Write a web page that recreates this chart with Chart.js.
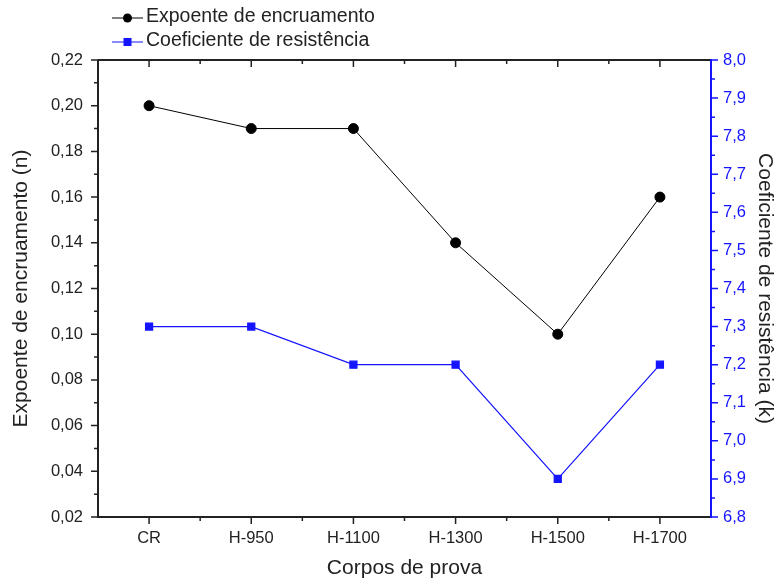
<!DOCTYPE html>
<html>
<head>
<meta charset="utf-8">
<script src="https://cdn.jsdelivr.net/npm/chart.js@4"></script>
<style>
  html, body { margin: 0; padding: 0; background: #fff; }
  #wrap { width: 781px; height: 588px; position: relative; }
</style>
</head>
<body>
<div id="wrap"><canvas id="chart"></canvas></div>
<script>
// data
var categories = ['CR', 'H-950', 'H-1100', 'H-1300', 'H-1500', 'H-1700'];
var expoenteN = [0.20, 0.19, 0.19, 0.14, 0.10, 0.16];
var coeficienteK = [7.3, 7.3, 7.2, 7.2, 6.9, 7.2];
var leftTicks = [0.02, 0.04, 0.06, 0.08, 0.10, 0.12, 0.14, 0.16, 0.18, 0.20, 0.22];
var rightTicks = [6.8, 6.9, 7.0, 7.1, 7.2, 7.3, 7.4, 7.5, 7.6, 7.7, 7.8, 7.9, 8.0];

var BLUE = '#1414ff';
var FONT = 'Liberation Sans, Arial, sans-serif';

function fmt(v, d) {
    return v.toFixed(d).replace('.', ',');
}

// frame, major/minor ticks and legend
var framePlugin = {
    id: 'frame',
    afterDraw: function (chart) {
        var ctx = chart.ctx;
        var a = chart.chartArea;
        var x = chart.scales.x, yl = chart.scales.y, yr = chart.scales.y2;
        ctx.save();

        // black frame (left, bottom, top)
        ctx.strokeStyle = '#222';
        ctx.lineWidth = 2;
        ctx.beginPath();
        ctx.moveTo(a.left, a.top);
        ctx.lineTo(a.left, a.bottom);
        ctx.lineTo(a.right, a.bottom);
        ctx.moveTo(a.left, a.top);
        ctx.lineTo(a.right, a.top);
        ctx.stroke();

        // x ticks: major at categories, minor at boundaries
        ctx.lineWidth = 1.5;
        ctx.beginPath();
        for (var i = 0; i < categories.length; i++) {
            var px = x.getPixelForValue(i);
            ctx.moveTo(px, a.bottom); ctx.lineTo(px, a.bottom + 7);
            ctx.moveTo(px, a.top); ctx.lineTo(px, a.top + 7);
            if (i > 0) {
                var mx = (px + x.getPixelForValue(i - 1)) / 2;
                ctx.moveTo(mx, a.bottom); ctx.lineTo(mx, a.bottom + 4);
                ctx.moveTo(mx, a.top); ctx.lineTo(mx, a.top + 4);
            }
        }
        // left ticks
        for (var j = 0; j < leftTicks.length; j++) {
            var py = yl.getPixelForValue(leftTicks[j]);
            ctx.moveTo(a.left, py); ctx.lineTo(a.left - 7, py);
            if (j > 0) {
                var my = (py + yl.getPixelForValue(leftTicks[j - 1])) / 2;
                ctx.moveTo(a.left, my); ctx.lineTo(a.left - 4, my);
            }
        }
        ctx.stroke();

        // right blue axis
        ctx.strokeStyle = BLUE;
        ctx.lineWidth = 2;
        ctx.beginPath();
        ctx.moveTo(a.right, a.top - 1);
        ctx.lineTo(a.right, a.bottom + 1);
        ctx.stroke();
        ctx.lineWidth = 1.5;
        ctx.beginPath();
        for (var k = 0; k < rightTicks.length; k++) {
            var ry = yr.getPixelForValue(rightTicks[k]);
            ctx.moveTo(a.right, ry); ctx.lineTo(a.right + 7, ry);
            if (k > 0) {
                var mry = (ry + yr.getPixelForValue(rightTicks[k - 1])) / 2;
                ctx.moveTo(a.right, mry); ctx.lineTo(a.right + 4, mry);
            }
        }
        ctx.stroke();

        // legend
        ctx.font = '19.5px ' + FONT;
        ctx.textBaseline = 'middle';
        ctx.textAlign = 'left';
        ctx.lineWidth = 1;
        ctx.strokeStyle = '#000';
        ctx.beginPath(); ctx.moveTo(112, 18); ctx.lineTo(143, 18); ctx.stroke();
        ctx.fillStyle = '#000';
        ctx.beginPath(); ctx.arc(127.5, 18, 4.5, 0, Math.PI * 2); ctx.fill();
        ctx.fillStyle = '#222';
        ctx.fillText('Expoente de encruamento', 146, 17);

        ctx.strokeStyle = BLUE;
        ctx.beginPath(); ctx.moveTo(112, 42); ctx.lineTo(143, 42); ctx.stroke();
        ctx.fillStyle = BLUE;
        ctx.fillRect(123.5, 38, 8, 8);
        ctx.fillStyle = '#222';
        ctx.fillText('Coeficiente de resistência', 146, 41);

        ctx.restore();
    }
};

new Chart(document.getElementById('chart').getContext('2d'), {
    type: 'line',
    data: {
        labels: categories,
        datasets: [
            {
                label: 'Expoente de encruamento',
                data: expoenteN,
                yAxisID: 'y',
                borderColor: '#000',
                backgroundColor: '#000',
                borderWidth: 1,
                pointStyle: 'circle',
                pointRadius: 5,
                pointHoverRadius: 5,
                tension: 0
            },
            {
                label: 'Coeficiente de resistência',
                data: coeficienteK,
                yAxisID: 'y2',
                borderColor: BLUE,
                backgroundColor: BLUE,
                borderWidth: 1.2,
                pointStyle: 'rect',
                pointRadius: 5,
                pointHoverRadius: 5,
                tension: 0
            }
        ]
    },
    options: {
        responsive: true,
        maintainAspectRatio: false,
        animation: false,
        layout: { padding: { top: 60, left: 0, right: 0, bottom: 0 } },
        plugins: {
            legend: { display: false },
            tooltip: { enabled: false }
        },
        scales: {
            x: {
                offset: true,
                grid: { display: false, drawTicks: false },
                border: { display: false },
                ticks: { color: '#222', font: { family: FONT, size: 16.5 }, padding: 12, maxRotation: 0 },
                title: { display: true, text: 'Corpos de prova', color: '#222', font: { family: FONT, size: 21 }, padding: { top: 4, bottom: 7 } },
                afterFit: function (s) { s.height = 71; }
            },
            y: {
                position: 'left',
                min: 0.02,
                max: 0.22,
                afterBuildTicks: function (s) { s.ticks = leftTicks.map(function (v) { return { value: v }; }); },
                grid: { display: false, drawTicks: false },
                border: { display: false },
                ticks: {
                    color: '#222', font: { family: FONT, size: 16.5 }, padding: 15,
                    callback: function (v) { return fmt(v, 2); }
                },
                title: { display: true, text: 'Expoente de encruamento (n)', color: '#222', font: { family: FONT, size: 21 }, padding: { top: 9, bottom: 4 } },
                afterFit: function (s) { s.width = 98; }
            },
            y2: {
                position: 'right',
                min: 6.8,
                max: 8.0,
                afterBuildTicks: function (s) { s.ticks = rightTicks.map(function (v) { return { value: v }; }); },
                grid: { display: false, drawTicks: false },
                border: { display: false },
                ticks: {
                    color: BLUE, font: { family: FONT, size: 16.5 }, padding: 12,
                    callback: function (v) { return fmt(v, 1); }
                },
                title: { display: true, text: 'Coeficiente de resistência (k)', color: '#222', font: { family: FONT, size: 21 }, padding: { top: 4, bottom: 4 } },
                afterFit: function (s) { s.width = 70; }
            }
        }
    },
    plugins: [framePlugin]
});
</script>
</body>
</html>
